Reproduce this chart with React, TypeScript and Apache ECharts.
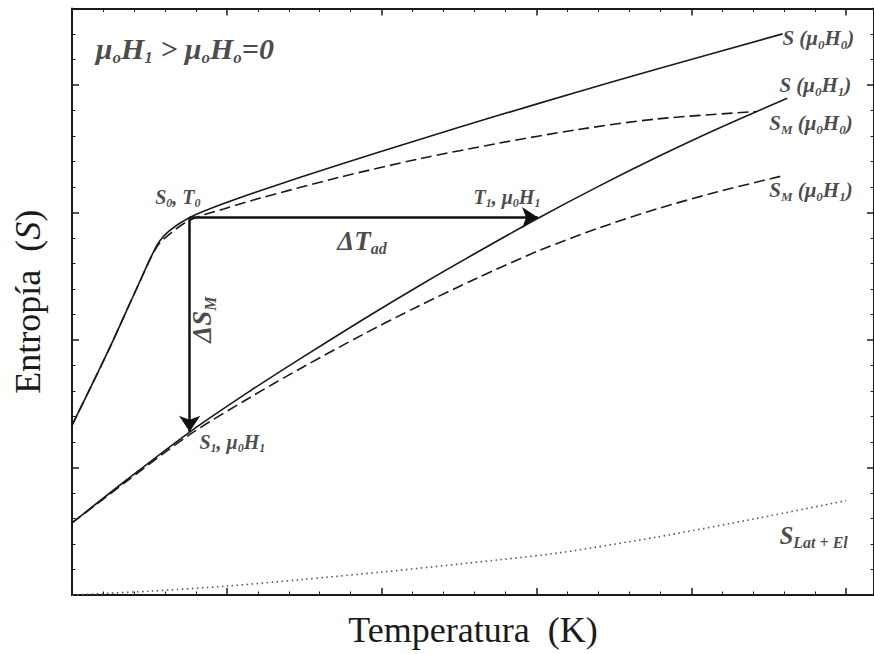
import React, { useEffect, useRef } from "react";
import * as echarts from "echarts";

// ---------- data (arbitrary units: temperature T, entropy S) ----------
const sH0: [number, number][] = [
  [0, 1.33], [0.24, 1.93], [0.42, 2.41], [0.55, 2.745], [0.63, 2.857], [0.76, 2.961],
  [0.98, 3.07], [1.21, 3.169], [1.72, 3.373], [2.24, 3.571], [2.75, 3.76], [3.27, 3.947],
  [3.78, 4.126], [4.59, 4.401],
];
const smH0: [number, number][] = [
  [0, 1.33], [0.24, 1.93], [0.42, 2.41], [0.55, 2.735], [0.64, 2.84], [0.76, 2.94],
  [0.98, 3.028], [1.21, 3.111], [1.72, 3.274], [2.24, 3.42], [2.75, 3.542], [3.27, 3.651],
  [3.78, 3.734], [4.42, 3.792],
];
const sH1: [number, number][] = [
  [0, 0.565], [0.35, 0.9], [0.76, 1.278], [1.15, 1.6], [1.47, 1.85], [1.88, 2.161],
  [2.24, 2.424], [2.62, 2.69], [3.01, 2.955], [3.4, 3.205], [3.78, 3.435], [4.17, 3.657],
  [4.62, 3.896],
];
const smH1: [number, number][] = [
  [0, 0.565], [0.35, 0.889], [0.76, 1.258], [1.15, 1.549], [1.47, 1.773], [1.88, 2.044],
  [2.24, 2.267], [2.62, 2.487], [3.01, 2.698], [3.4, 2.877], [3.78, 3.029], [4.17, 3.162],
  [4.59, 3.288],
];
const sLatEl: [number, number][] = [
  [0, 0], [0.5, 0.03], [1.0, 0.07], [1.47, 0.12], [2.0, 0.18], [2.75, 0.275],
  [3.14, 0.33], [3.78, 0.455], [4.42, 0.6], [5.0, 0.74],
];
const pointS0T0: [number, number] = [0.76, 2.96];
const T1 = 3.01;
const S1 = 1.28;

const T_MAX = 5.18;
const S_MAX = 4.6;

// annotation anchors [T, S] and rich texts
const annotations: { at: [number, number]; text: string; rotate?: number }[] = [
  { at: [0.15, 4.29], text: "{a|μ}{as|o}{a|H}{as|1}{a| > μ}{as|o}{a|H}{as|o}{a|=0}" },
  { at: [4.585, 4.37], text: "{b|S (μ}{bs|0}{b|H}{bs|0}{b|)}" },
  { at: [4.566, 4.0], text: "{b|S (μ}{bs|0}{b|H}{bs|1}{b|)}" },
  { at: [4.5, 3.7], text: "{b|S}{bs|M}{b| (μ}{bs|0}{b|H}{bs|0}{b|)}" },
  { at: [4.5, 3.18], text: "{b|S}{bs|M}{b| (μ}{bs|0}{b|H}{bs|1}{b|)}" },
  { at: [0.534, 3.12], text: "{d|S}{ds|0}{d|, T}{ds|0}" },
  { at: [2.59, 3.12], text: "{d|T}{ds|1}{d|, μ}{ds|0}{d|H}{ds|1}" },
  { at: [1.71, 2.78], text: "{c|ΔT}{cs|ad}" },
  { at: [0.842, 2.16], text: "{c|ΔS}{cs|M}", rotate: 90 },
  { at: [0.82, 1.2], text: "{d|S}{ds|1}{d|, μ}{ds|0}{d|H}{ds|1}" },
  { at: [4.566, 0.47], text: "{e|S}{es|Lat + El}" },
];

const FONT = '"Liberation Serif", "Times New Roman", serif';
const INK = "#1a1a1a";

function mk(size: number, lh: number, sub = false) {
  return {
    fontSize: size,
    lineHeight: lh,
    fontWeight: "bold",
    fontStyle: "italic",
    fontFamily: FONT,
    color: INK,
    ...(sub ? { verticalAlign: "bottom" } : {}),
  };
}

const rich = {
  a: mk(30, 36), as: mk(17, 20, true),
  b: mk(21, 26), bs: mk(13, 16, true),
  c: mk(27, 32), cs: mk(16, 19, true),
  d: mk(20, 24), ds: mk(12, 15, true),
  e: mk(25, 30), es: mk(16, 19, true),
};

function axisBase(extra: any) {
  return {
    type: "value",
    axisLine: { show: true, onZero: false, lineStyle: { color: INK, width: 2 } },
    axisTick: { show: true, inside: true, length: 7, lineStyle: { color: INK, width: 1.5 } },
    minorTick: { show: true, splitNumber: 5, length: 3.5, lineStyle: { color: INK, width: 1 } },
    axisLabel: { show: false },
    splitLine: { show: false },
    ...extra,
  };
}

export default function App() {
  const ref = useRef<HTMLDivElement>(null);
  useEffect(() => {
    if (!ref.current) return;
    const chart = echarts.init(ref.current, undefined, { renderer: "svg" });
    const curve = (name: string, data: [number, number][], type: any, color = INK, width = 1.6) => ({
      type: "line",
      name,
      data,
      smooth: 0.3,
      symbol: "none",
      showSymbol: false,
      silent: true,
      lineStyle: { color, width, type },
    });
    chart.setOption({
      animation: false,
      backgroundColor: "#ffffff",
      grid: { left: 72, right: -3, top: 8.5, bottom: 59, containLabel: false },
      xAxis: [
        axisBase({
          min: 0, max: T_MAX, interval: 1, position: "bottom",
          name: "Temperatura  (K)", nameLocation: "middle", nameGap: 17,
          nameTextStyle: { fontFamily: FONT, fontSize: 36, color: INK },
        }),
        axisBase({ min: 0, max: T_MAX, interval: 1, position: "top" }),
      ],
      yAxis: [
        axisBase({
          min: 0, max: S_MAX, interval: 1, position: "left",
          name: "{r|Entropía  (}{i|S}{r|)}", nameLocation: "middle", nameGap: 26,
          nameTextStyle: {
            fontFamily: FONT, fontSize: 36, color: INK,
            rich: {
              r: { fontFamily: FONT, fontSize: 36, color: INK },
              i: { fontFamily: FONT, fontSize: 36, color: INK, fontStyle: "italic" },
            },
          },
        }),
        axisBase({ min: 0, max: S_MAX, interval: 1, position: "right" }),
      ],
      series: [
        curve("S (μ0H0)", sH0, "solid"),
        curve("SM (μ0H0)", smH0, [11, 5]),
        curve("S (μ0H1)", sH1, "solid"),
        curve("SM (μ0H1)", smH1, [11, 5]),
        curve("S Lat+El", sLatEl, [1.5, 3.5], "#555", 1.6),
        {
          type: "lines",
          coordinateSystem: "cartesian2d",
          silent: true,
          symbol: ["none", "arrow"],
          symbolSize: [0, 16],
          lineStyle: { color: "#111", width: 2.5, opacity: 1, curveness: 0 },
          data: [
            { coords: [pointS0T0, [T1, pointS0T0[1]]] },
            { coords: [pointS0T0, [pointS0T0[0], S1]] },
          ],
        },
        {
          type: "scatter",
          silent: true,
          symbolSize: 1,
          itemStyle: { color: "rgba(0,0,0,0)" },
          z: 10,
          data: annotations.map((a) => ({
            value: a.at,
            label: a.rotate
              ? {
                  show: true, position: "inside", rotate: a.rotate,
                  align: "center", verticalAlign: "middle",
                  formatter: a.text, rich,
                }
              : {
                  show: true, position: "right", distance: 0,
                  formatter: a.text, rich,
                },
          })),
        },
      ],
    });
    return () => chart.dispose();
  }, []);
  return (
    <div
      ref={ref}
      style={{ position: "absolute", left: 0, top: 0, width: 874, height: 654, background: "#fff" }}
    />
  );
}
